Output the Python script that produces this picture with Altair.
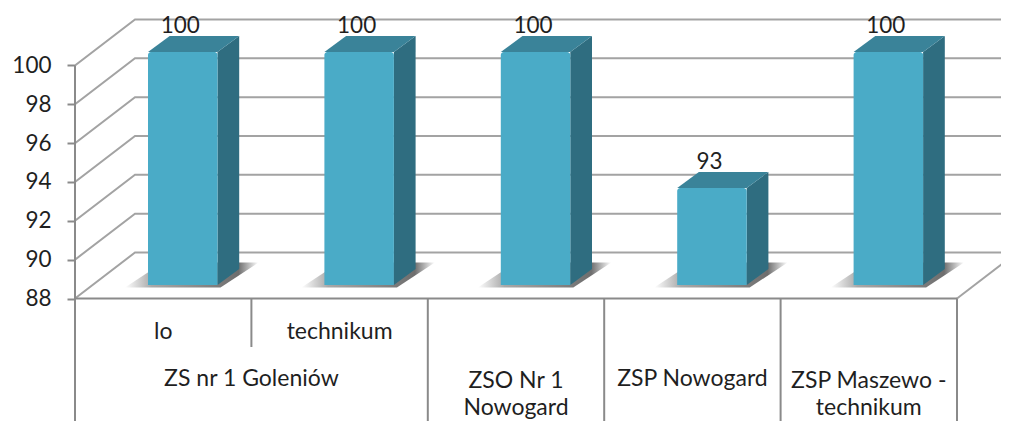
import altair as alt
import pandas as pd

# --- chart values -----------------------------------------------------------
values = [100, 100, 100, 93, 100]
value_labels = ["100", "100", "100", "93", "100"]
y_ticks = [88, 90, 92, 94, 96, 98, 100]
inner_labels = ["lo", "technikum"]
outer_labels = [["ZS nr 1 Goleniów"], ["ZSO Nr 1", "Nowogard"], ["ZSP Nowogard"], ["ZSP Maszewo -", "technikum"]]
outer_spans = [(0, 2), (2, 3), (3, 4), (4, 5)]

# --- geometry: one x unit = one category, y unit = one percent ---------------
PX_X, PX_Y = 176.4, 19.42
LEFT, BASE_PX, TOP, BOTTOM = 75.0, 298.5, 8.0, 421.0
WIDTH, HEIGHT = 1001 - LEFT, BOTTOM - TOP
xu = lambda px: px / PX_X
yu = lambda px: px / PX_Y
y_at = lambda px: 88 + (BASE_PX - px) / PX_Y
X_MAX = xu(WIDTH)
Y_MIN, Y_MAX = y_at(BOTTOM), y_at(TOP)
WALL_X, WALL_Y = xu(60), yu(46)
BAR_IN, BAR_W = xu(73), xu(69.5)
BAR_LIFT = yu(13.5)
DEPTH_X, DEPTH_Y = xu(21.7), yu(16)

FONT = "Lato"
GRID = "#a3a3a3"
AXIS = "#8a8a8a"
TEXT = "#1f1f1f"

xs = alt.Scale(domain=[0, X_MAX], nice=False, zero=False)
ys = alt.Scale(domain=[Y_MIN, Y_MAX], nice=False, zero=False)
y_axis = alt.Axis(
    values=y_ticks, format="d", grid=False, domain=False, tickColor=AXIS, tickWidth=2, tickSize=8,
    labelFont=FONT, labelFontSize=22.5, labelColor=TEXT, labelPadding=16, title=None,
)
X = alt.X("x:Q", scale=xs, axis=None)
Y = alt.Y("y:Q", scale=ys, axis=y_axis)

# walls and grid
lines = []
for v in y_ticks:
    lines.append(dict(x=0, y=v, k=f"s{v}"))
    lines.append(dict(x=WALL_X, y=v + WALL_Y, k=f"s{v}"))
    lines.append(dict(x=WALL_X, y=v + WALL_Y, k=f"s{v}"))
    lines.append(dict(x=X_MAX, y=v + WALL_Y, k=f"s{v}"))
lines += [dict(x=5, y=88, k="floor"), dict(x=5 + WALL_X, y=88 + WALL_Y, k="floor")]
grid = alt.Chart(pd.DataFrame(lines)).mark_line(color=GRID, strokeWidth=2, clip=True).encode(x=X, y=Y, detail="k:N")

front_floor = alt.Chart(pd.DataFrame([dict(x=0, y=88), dict(x=5, y=88)])).mark_line(color=AXIS, strokeWidth=2).encode(x=X, y=Y)

# category separators
seps = pd.DataFrame(
    [dict(x=0, y=100, y2=Y_MIN), dict(x=1, y=88, y2=y_at(347))]
    + [dict(x=i, y=88, y2=Y_MIN) for i in (2, 3, 4, 5)]
)
sep_rules = alt.Chart(seps).mark_rule(color=AXIS, strokeWidth=2).encode(x=X, y=Y, y2="y2:Q")

# shadows, side and top faces
shadow, side, top, front = [], [], [], []
for i, v in enumerate(values):
    x0 = i + BAR_IN
    x1 = x0 + BAR_W
    b = 88 + BAR_LIFT
    t = v + BAR_LIFT
    sl, sb = xu(23), yu(2.5)
    sh = b - sb
    sh_top = sh + yu(25)
    slant = xu(38)
    shadow += [
        dict(x=x0 - sl, y=sh, y2=sh, i=i),
        dict(x=x0 - sl + slant, y=sh_top, y2=sh, i=i),
        dict(x=x1 + xu(3), y=sh_top, y2=sh, i=i),
        dict(x=x1 + xu(3) + slant, y=sh_top, y2=sh_top, i=i),
    ]
    side += [
        dict(x=x1, y=t, y2=b, i=i),
        dict(x=x1 + DEPTH_X, y=t + DEPTH_Y, y2=b + DEPTH_Y, i=i),
    ]
    top += [
        dict(x=x0, y=t, y2=t, i=i),
        dict(x=x0 + DEPTH_X, y=t + DEPTH_Y, y2=t, i=i),
        dict(x=x1, y=t + DEPTH_Y, y2=t, i=i),
        dict(x=x1 + DEPTH_X, y=t + DEPTH_Y, y2=t + DEPTH_Y, i=i),
    ]
    front.append(dict(x=x0, x2=x1, y=t, y2=b, lab=value_labels[i], lx=x0 + BAR_W / 2 - xu(2.5)))

shadow_fill = alt.Gradient(
    gradient="linear", x1=0, x2=1, y1=0, y2=0,
    stops=[
        alt.GradientStop(offset=0, color="#ffffff"),
        alt.GradientStop(offset=0.2, color="#a8a8a8"),
        alt.GradientStop(offset=0.85, color="#6e6e6e"),
        alt.GradientStop(offset=1, color="#ffffff"),
    ],
)
shadow_l = alt.Chart(pd.DataFrame(shadow)).mark_area(fill=shadow_fill, interpolate="linear").encode(
    x=X, y=Y, y2="y2:Q", detail="i:N"
)
side_l = alt.Chart(pd.DataFrame(side)).mark_area(color="#2f6d80", interpolate="linear").encode(
    x=X, y=Y, y2="y2:Q", detail="i:N"
)
top_l = alt.Chart(pd.DataFrame(top)).mark_area(color="#3a8399", interpolate="linear").encode(
    x=X, y=Y, y2="y2:Q", detail="i:N"
)
fdf = pd.DataFrame(front)
front_l = alt.Chart(fdf).mark_rect(color="#4aabc7", cornerRadiusTopLeft=3, cornerRadiusTopRight=3).encode(
    x=X, x2="x2:Q", y=Y, y2="y2:Q"
)
val_text = alt.Chart(fdf).mark_text(
    font=FONT, fontSize=22.5, color=TEXT, baseline="alphabetic", align="center", dy=-19
).encode(x=alt.X("lx:Q", scale=xs, axis=None), y=Y, text="lab:N")

# category labels
rows = []
for i, lab in enumerate(inner_labels):
    rows.append(dict(x=i + 0.5, y=y_at(332), t=lab))
for (a, b_), lines_ in zip(outer_spans, outer_labels):
    if len(lines_) == 1:
        rows.append(dict(x=(a + b_) / 2, y=y_at(379), t=lines_[0]))
    else:
        rows.append(dict(x=(a + b_) / 2, y=y_at(381), t=lines_[0]))
        rows.append(dict(x=(a + b_) / 2, y=y_at(408), t=lines_[1]))
cat_text = alt.Chart(pd.DataFrame(rows)).mark_text(
    font=FONT, fontSize=23, color=TEXT, baseline="middle", align="center"
).encode(x=X, y=Y, text="t:N")

chart = alt.layer(
    grid, front_floor, sep_rules, shadow_l, side_l, top_l, front_l, val_text, cat_text
).properties(
    width=WIDTH, height=HEIGHT,
    autosize=alt.AutoSizeParams(type="none"),
    padding={"left": LEFT - 8, "top": 0, "right": 0, "bottom": 0},
    background="#ffffff",
).configure_view(strokeWidth=0)

chart.save("out.html", embed_options={"renderer": "svg", "actions": False})
